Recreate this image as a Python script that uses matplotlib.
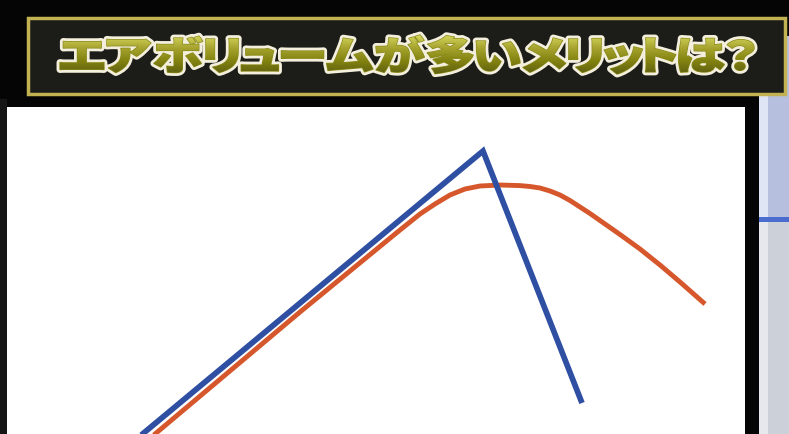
import numpy as np
import matplotlib
matplotlib.use("Agg")
import matplotlib.pyplot as plt
from matplotlib.patches import Rectangle, PathPatch
from matplotlib.textpath import TextPath
from matplotlib.font_manager import FontProperties
from matplotlib.transforms import Affine2D
from matplotlib.path import Path

# Data (panel pixel units: x right, y up)
title = "エアボリュームが多いメリットは？"
blue_x = [103, 476, 575]
blue_y = [-27, 283, 31]
orange_x = [115, 148, 293, 393, 413, 428, 443, 458, 473, 493, 513, 523, 533,
            543, 553, 563, 573, 583, 593, 613, 633, 653, 673, 698]
orange_y = [-28, 0, 122, 204, 220, 230, 239, 245, 248, 249, 248.4, 247.5, 246,
            243, 239, 233.5, 227, 220.5, 213.5, 199.5, 185, 169, 152, 130]

W, H = 789, 435
fig = plt.figure(figsize=(W / 100, H / 100), dpi=100)
fig.patch.set_facecolor("#050505")

# full-figure overlay in pixel coordinates (y down)
bg = fig.add_axes([0, 0, 1, 1])
bg.set_xlim(0, W)
bg.set_ylim(H, 0)
bg.axis("off")

bg.add_patch(Rectangle((0, 100), 7, 335, color="#151515", lw=0))
# right side strip
bg.add_patch(Rectangle((759, 37), 30, 181, color="#b6c0de", lw=0))
bg.add_patch(Rectangle((759, 37), 9, 181, color="#dfe5f5", lw=0))
bg.add_patch(Rectangle((759, 218), 30, 5, color="#4a6ccf", lw=0))
bg.add_patch(Rectangle((759, 223), 30, 212, color="#ccd0d8", lw=0))
bg.add_patch(Rectangle((759, 223), 9, 212, color="#e6e8ee", lw=0))

# title box
bg.add_patch(Rectangle((28, 19), 757, 76, facecolor="#1c1c19", edgecolor="#c2b252", lw=2.5))

# title text: glyphs laid out tightly and widened, drawn as paths with a gradient fill
fp = FontProperties(family="Noto Sans CJK JP", weight="heavy")
glyphs = [TextPath((0, 0), c, size=40, prop=fp) for c in title]
exts = [g.get_extents() for g in glyphs]
ymin = min(e.y0 for e in exts)
ymax = max(e.y1 for e in exts)
x0, x1, y0, y1 = 60, 754, 36, 75
gap = 3
sy = (y1 - y0) / (ymax - ymin)
sx = ((x1 - x0) - gap * (len(title) - 1)) / sum(e.width for e in exts)
paths = []
cur = x0
for g, e in zip(glyphs, exts):
    tr = Affine2D().translate(-e.x0, -ymin).scale(sx, -sy).translate(cur, y1)
    paths.append(tr.transform_path(g))
    cur += sx * e.width + gap
path = Path.make_compound_path(*paths)

bg.add_patch(PathPatch(path, facecolor="#f3efdc", edgecolor="#f3efdc", lw=5.0, joinstyle="round"))
bg.add_patch(PathPatch(path, facecolor="#8a8a1c", edgecolor="#8a8a1c", lw=1.0, joinstyle="round"))
fill = PathPatch(path, facecolor="none", edgecolor="none")
bg.add_patch(fill)
grad = np.linspace(0, 1, 64)[:, None]
cmap = matplotlib.colors.LinearSegmentedColormap.from_list(
    "gold", ["#d4d45c", "#a6a42e", "#828210", "#606110"])
im = bg.imshow(grad, cmap=cmap, extent=(x0, x1, y1, y0), aspect="auto", zorder=3)
im.set_clip_path(fill)

# chart panel
ax = fig.add_axes([7 / W, 0, (745 - 7) / W, (435 - 108) / H])
ax.set_facecolor("white")
ax.set_xlim(0, 738)
ax.set_ylim(0, 327)
ax.set_xticks([])
ax.set_yticks([])
for sp in ax.spines.values():
    sp.set_visible(False)

ax.plot(orange_x, orange_y, color="#d5572b", lw=3.5, solid_capstyle="butt",
        solid_joinstyle="round")
ax.plot(blue_x, blue_y, color="#2f4fa3", lw=4.1, solid_joinstyle="miter",
        solid_capstyle="butt")

fig.savefig("out.png", dpi=100, facecolor=fig.get_facecolor())
